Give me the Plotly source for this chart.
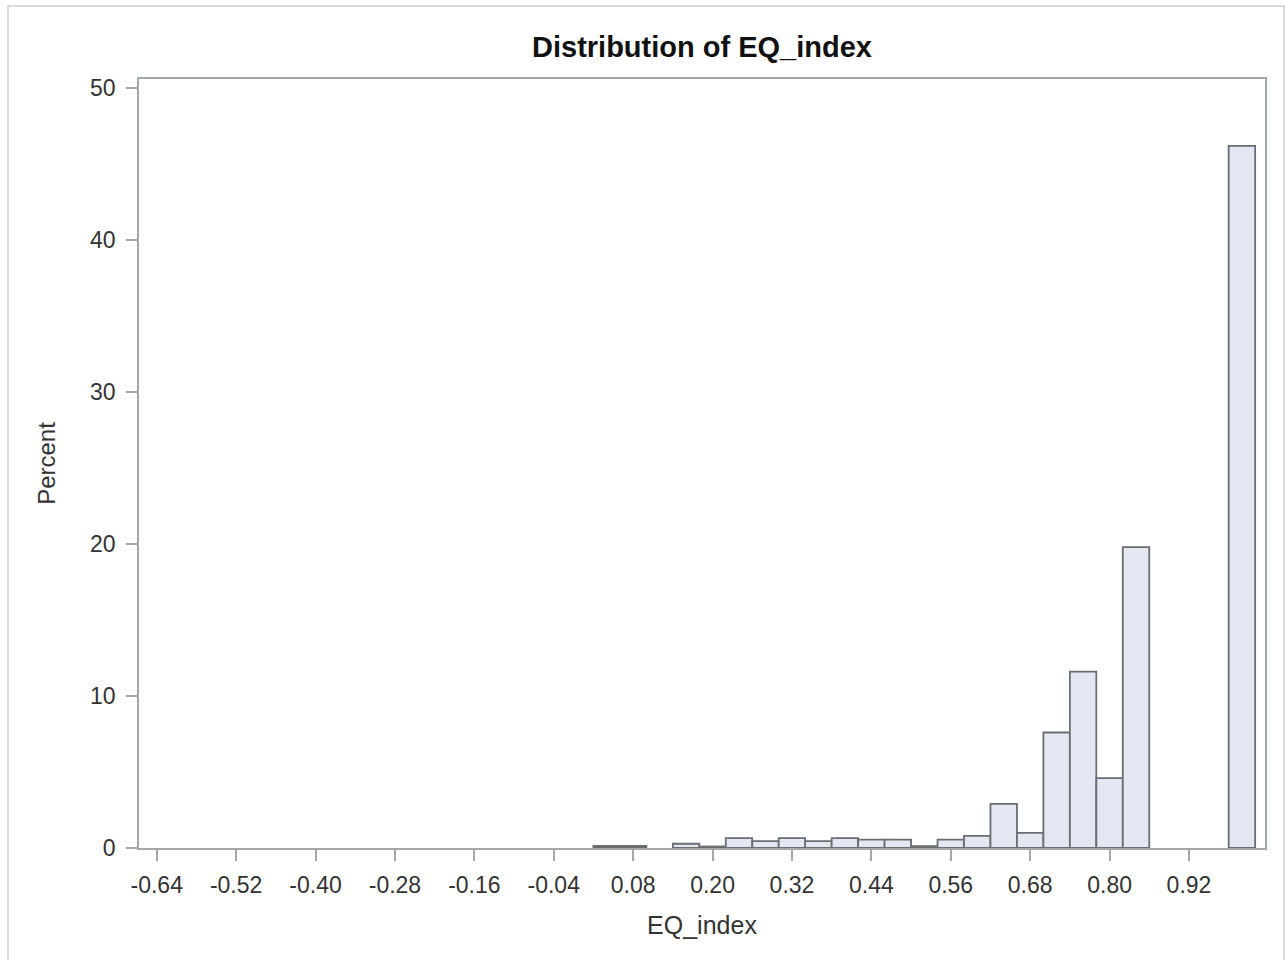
import plotly.graph_objects as go

# Histogram bins (midpoints, width 0.04) and percent of observations in each
bin_mid = [0.04, 0.08, 0.16, 0.20, 0.24, 0.28, 0.32, 0.36, 0.40, 0.44, 0.48,
           0.52, 0.56, 0.60, 0.64, 0.68, 0.72, 0.76, 0.80, 0.84, 1.00]
percent = [0.13, 0.13, 0.28, 0.10, 0.65, 0.45, 0.65, 0.45, 0.65, 0.55, 0.55,
           0.12, 0.55, 0.80, 2.9, 1.0, 7.6, 11.6, 4.6, 19.8, 46.2]
bin_width = 0.04

x_ticks = [-0.64, -0.52, -0.40, -0.28, -0.16, -0.04, 0.08, 0.20, 0.32, 0.44,
           0.56, 0.68, 0.80, 0.92]
x_tick_text = ["-0.64", "-0.52", "-0.40", "-0.28", "-0.16", "-0.04", "0.08",
               "0.20", "0.32", "0.44", "0.56", "0.68", "0.80", "0.92"]
y_ticks = [0, 10, 20, 30, 40, 50]

FONT = "Liberation Sans, Arial, sans-serif"
AXIS_COLOR = "#a3a7ab"

fig = go.Figure(go.Bar(
    x=bin_mid,
    y=percent,
    width=[bin_width] * len(bin_mid),
    marker=dict(color="#e3e7f1", line=dict(color="#6a6e73", width=1.8)),
    hoverinfo="x+y",
))

fig.update_layout(
    width=1285,
    height=960,
    margin=dict(l=139, r=20, t=79, b=112),
    paper_bgcolor="white",
    plot_bgcolor="white",
    showlegend=False,
    font=dict(family=FONT, color="#333333", size=23),
    title=dict(
        text="<b>Distribution of EQ_index</b>",
        x=0.5463, xanchor="center",
        y=0.951, yanchor="middle",
        font=dict(family=FONT, size=29, color="#111111"),
    ),
    xaxis=dict(
        range=[-0.6668, 1.0349],
        tickmode="array",
        tickvals=x_ticks,
        ticktext=x_tick_text,
        ticks="outside",
        ticklen=11,
        tickcolor=AXIS_COLOR,
        tickwidth=1.8,
        ticklabelstandoff=4,
        showline=True,
        linecolor=AXIS_COLOR,
        linewidth=1.8,
        mirror=True,
        showgrid=False,
        zeroline=False,
        tickfont=dict(size=23, color="#333333"),
        title=dict(text="EQ_index", font=dict(size=25, color="#333333"), standoff=20),
    ),
    yaxis=dict(
        range=[0, 50.6],
        tickmode="array",
        tickvals=y_ticks,
        ticks="outside",
        ticklen=11,
        tickcolor=AXIS_COLOR,
        tickwidth=1.8,
        ticklabelstandoff=6,
        showline=True,
        linecolor=AXIS_COLOR,
        linewidth=1.8,
        mirror=True,
        showgrid=False,
        zeroline=False,
        tickfont=dict(size=23, color="#333333"),
        title=dict(text="Percent", font=dict(size=24, color="#333333"), standoff=28),
    ),
    shapes=[
        # light frame around the whole graph
        dict(type="rect", xref="paper", yref="paper",
             x0=-131 / 1126, x1=(1284 - 139) / 1126,
             y0=-116 / 769, y1=(960 - 6 - 112) / 769,
             line=dict(color="#d0d0d0", width=1.5), fillcolor="rgba(0,0,0,0)",
             layer="below"),
    ],
)

fig.write_html("out.html")
